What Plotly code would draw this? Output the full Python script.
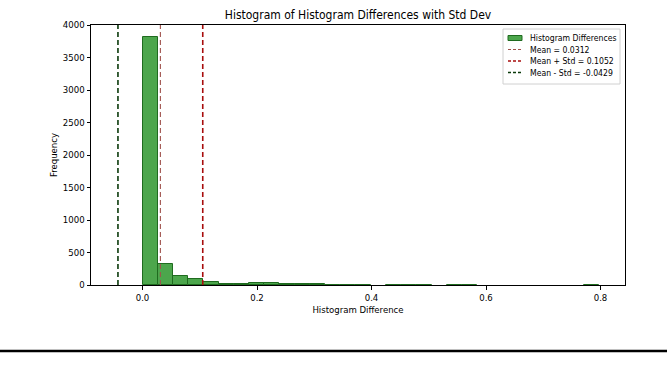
import plotly.graph_objects as go

# ---- data ----
bin_start = 0.0
bin_width = 0.02657
counts = [3810, 320, 140, 92, 48, 20, 18, 25, 25, 20,
          18, 8, 6, 5, 4, 0, 4, 5, 3, 0,
          3, 4, 0, 0, 0, 0, 0, 0, 0, 3]
mean_val = 0.0312
plus_std = 0.1052
minus_std = -0.0429
x_ticks = [0.0, 0.2, 0.4, 0.6, 0.8]
x_tick_labels = ["0.0", "0.2", "0.4", "0.6", "0.8"]
y_ticks = [0, 500, 1000, 1500, 2000, 2500, 3000, 3500, 4000]
legend_labels = ["Histogram Differences", "Mean = 0.0312",
                 "Mean + Std = 0.1052", "Mean - Std = -0.0429"]

FONT = "Liberation Sans Narrow, DejaVu Sans Condensed, sans-serif"
W, H = 667, 370
L, R, T, B = 91, 42, 25, 85
pw, ph = W - L - R, H - T - B

centers = [bin_start + bin_width * (i + 0.5) for i in range(len(counts))]
edge_widths = [1 if c > 0 else 0 for c in counts]

fig = go.Figure()
fig.add_trace(go.Bar(
    x=centers, y=counts, width=[bin_width] * len(counts),
    marker=dict(color="rgba(0,128,0,0.7)", line=dict(color="#1f6b1f", width=edge_widths)),
    name=legend_labels[0], showlegend=False,
))

line_styles = [
    (mean_val, "#a0524d", 1.1, legend_labels[1]),
    (plus_std, "#a80d0d", 1.6, legend_labels[2]),
    (minus_std, "#0b3a0b", 1.6, legend_labels[3]),
]
for xv, col, lw, nm in line_styles:
    fig.add_trace(go.Scatter(
        x=[xv, xv], y=[0, 4000], mode="lines", name=nm, showlegend=False,
        line=dict(color=col, width=lw, dash="5px,3px"), hoverinfo="skip",
    ))

fig.update_layout(
    width=W, height=H,
    margin=dict(l=L, r=R, t=T, b=B, pad=0),
    paper_bgcolor="white", plot_bgcolor="white",
    font=dict(family=FONT, size=9.5, color="black"),
    title=dict(text="Histogram of Histogram Differences with Std Dev",
               x=(L + pw / 2) / W, xanchor="center", y=1 - 15 / H, yanchor="middle",
               font=dict(size=12, family=FONT, color="black")),
    bargap=0,
    showlegend=False,
)
fig.update_xaxes(
    range=[-0.09, 0.8428], tickvals=x_ticks, ticktext=x_tick_labels,
    showgrid=False, zeroline=False, showline=True, linecolor="black", linewidth=1,
    mirror=True, ticks="outside", ticklen=3.5, tickcolor="black", tickwidth=1,
    tickfont=dict(size=9.5, family=FONT),
    title=dict(text="Histogram Difference", font=dict(size=9.5, family=FONT), standoff=4),
)
fig.update_yaxes(
    range=[0, 4000], tickvals=y_ticks,
    showgrid=False, zeroline=False, showline=True, linecolor="black", linewidth=1,
    mirror=True, ticks="outside", ticklen=3.5, tickcolor="black", tickwidth=1,
    tickfont=dict(size=9.5, family=FONT),
    title=dict(text="Frequency", font=dict(size=9.5, family=FONT), standoff=3),
)

# ---- custom legend (matplotlib-style box) ----
def px_x(p):
    return (p - L) / pw

def px_y(p):
    return 1 - (p - T) / ph

shapes = []
annotations = []
bx0, bx1, by0, by1 = 503, 620, 29, 84
shapes.append(dict(type="rect", xref="paper", yref="paper",
                   x0=px_x(bx0), x1=px_x(bx1), y0=px_y(by1), y1=px_y(by0),
                   line=dict(color="#d0d0d0", width=1), fillcolor="rgba(255,255,255,0.85)"))
rows = [38, 49.5, 61, 72.5]
sx0, sx1 = 508, 522
shapes.append(dict(type="rect", xref="paper", yref="paper",
                   x0=px_x(sx0), x1=px_x(sx1), y0=px_y(rows[0] + 2.5), y1=px_y(rows[0] - 2.5),
                   line=dict(color="#1f6b1f", width=1), fillcolor="rgba(0,128,0,0.7)"))
for (xv, col, lw, nm), ry in zip(line_styles, rows[1:]):
    shapes.append(dict(type="line", xref="paper", yref="paper",
                       x0=px_x(sx0), x1=px_x(sx1), y0=px_y(ry), y1=px_y(ry),
                       line=dict(color=col, width=lw, dash="3px,2px")))
for txt, ry in zip(legend_labels, rows):
    annotations.append(dict(text=txt, xref="paper", yref="paper", x=px_x(528), y=px_y(ry),
                            xanchor="left", yanchor="middle", showarrow=False,
                            font=dict(size=8.6, family=FONT, color="black")))

# bottom separator rule of the original image
shapes.append(dict(type="line", xref="paper", yref="paper",
                   x0=px_x(0), x1=px_x(W), y0=px_y(351), y1=px_y(351),
                   line=dict(color="black", width=2.5)))

fig.update_layout(shapes=shapes, annotations=annotations)
fig.write_html("out.html")
